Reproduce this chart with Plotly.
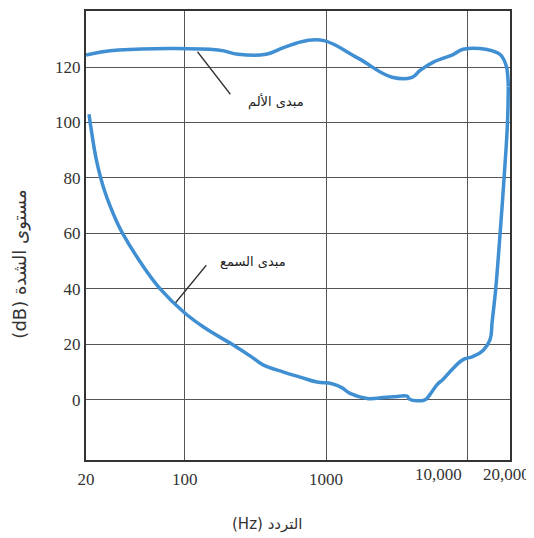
import numpy as np
import plotly.graph_objects as go

# --- data ---
pain_freq = [20, 25, 34, 172, 238, 376, 500, 721, 967, 1680, 2930, 4060, 4620,
             5700, 7910, 9310, 13770, 17020, 18760, 19300, 19450]
pain_db = [124.3, 125.3, 126.1, 126.1, 124.6, 124.6, 127.0, 129.5, 129.5, 123.2,
           116.3, 116.3, 118.8, 121.7, 124.5, 126.4, 126.3, 124.5, 120.6, 116.5, 113.0]

hear_freq = [21, 22, 23.8, 27.2, 33, 36.3, 48, 67, 100, 140, 216, 300, 358, 500, 654,
             863, 1100, 1300, 1476, 1950, 2530, 3200, 3740, 3900, 5000, 5440, 6100,
             6730, 7910, 9310, 10900, 12900, 14450, 14940, 15480, 15850, 17020,
             18160, 19200, 19450]
hear_db = [103, 96, 86, 75, 64.2, 60, 50, 40, 31.3, 25.8, 20, 15.3, 12.6, 10.0, 8.2, 6.4,
           5.8, 4.3, 2.3, 0.5, 0.8, 1.2, 1.3, 0.2, 0.0, 2.0, 5.5, 7.4, 11.3, 14.5,
           15.6, 17.8, 21.7, 28, 35, 40, 60, 80, 100, 113]

x_ticks = [20, 100, 1000, 10000]
x_ticktext = ["20", "100", "1000", ""]
y_ticks = [0, 20, 40, 60, 80, 100, 120]

pain_label = "مبدى الألم"
hear_label = "مبدى السمع"
x_title = "(Hz) التردد"
y_title = "(dB) مستوى الشدة"

line_col = "#3f8fd2"
serif = "Liberation Serif"
arab = "DejaVu Sans"

fig = go.Figure()
fig.add_trace(go.Scatter(x=pain_freq, y=pain_db, mode="lines",
                         line=dict(color=line_col, width=3.5, shape="spline", smoothing=1.2),
                         hoverinfo="skip"))
fig.add_trace(go.Scatter(x=hear_freq, y=hear_db, mode="lines",
                         line=dict(color=line_col, width=3.5, shape="spline", smoothing=1.2),
                         hoverinfo="skip"))

# leader lines (arrow with no head) and curve labels
fig.add_annotation(x=np.log10(123), y=125.5, ax=34, ay=44, text="", showarrow=True,
                   arrowhead=0, arrowwidth=1.3, arrowcolor="#333")
fig.add_annotation(x=np.log10(86), y=35, ax=32, ay=-39, text="", showarrow=True,
                   arrowhead=0, arrowwidth=1.3, arrowcolor="#333")
fig.add_annotation(x=np.log10(442), y=107.7, text=pain_label, showarrow=False,
                   font=dict(family=arab, size=13, color="#222"))
fig.add_annotation(x=np.log10(304), y=49.8, text=hear_label, showarrow=False,
                   font=dict(family=arab, size=13, color="#222"))

# the two crowded x labels are nudged left as in the original
fig.add_annotation(x=np.log10(10000), y=0, yref="paper", yanchor="top", yshift=-3, xshift=-29,
                   text="10,000", showarrow=False, font=dict(family=serif, size=17, color="#333"))
fig.add_annotation(x=np.log10(20000), y=0, yref="paper", yanchor="top", xanchor="right",
                   yshift=-3, xshift=22,
                   text="20,000", showarrow=False, font=dict(family=serif, size=17, color="#333"))

# axis titles
fig.add_annotation(x=0.427, xref="paper", y=-0.142, yref="paper", xanchor="center",
                   yanchor="middle", text=x_title, showarrow=False,
                   font=dict(family=arab, size=15, color="#333"))
fig.add_annotation(x=-0.156, xref="paper", y=0.437, yref="paper", xanchor="center",
                   yanchor="middle", text=y_title, textangle=-90, showarrow=False,
                   font=dict(family=arab, size=18, color="#333"))

fig.update_xaxes(type="log", range=[np.log10(20), np.log10(20000)],
                 tickvals=x_ticks, ticktext=x_ticktext,
                 showgrid=True, gridcolor="#555", gridwidth=1.2,
                 showline=True, linecolor="#333", linewidth=2, mirror=True,
                 ticks="", ticklabelstandoff=3, zeroline=False,
                 tickfont=dict(family=serif, size=17, color="#333"))
fig.update_yaxes(range=[-21.7, 140.2], tickvals=y_ticks,
                 showgrid=True, gridcolor="#555", gridwidth=1.2,
                 showline=True, linecolor="#333", linewidth=2, mirror=True,
                 ticks="", ticklabelstandoff=0, zeroline=False,
                 tickfont=dict(family=serif, size=17, color="#333"))

# page body adds 8px margin, so the figure is 8px smaller than the window
fig.update_layout(width=526, height=530, showlegend=False,
                  margin=dict(l=78, r=24, t=1, b=78),
                  plot_bgcolor="white", paper_bgcolor="white")

fig.write_html("out.html")
